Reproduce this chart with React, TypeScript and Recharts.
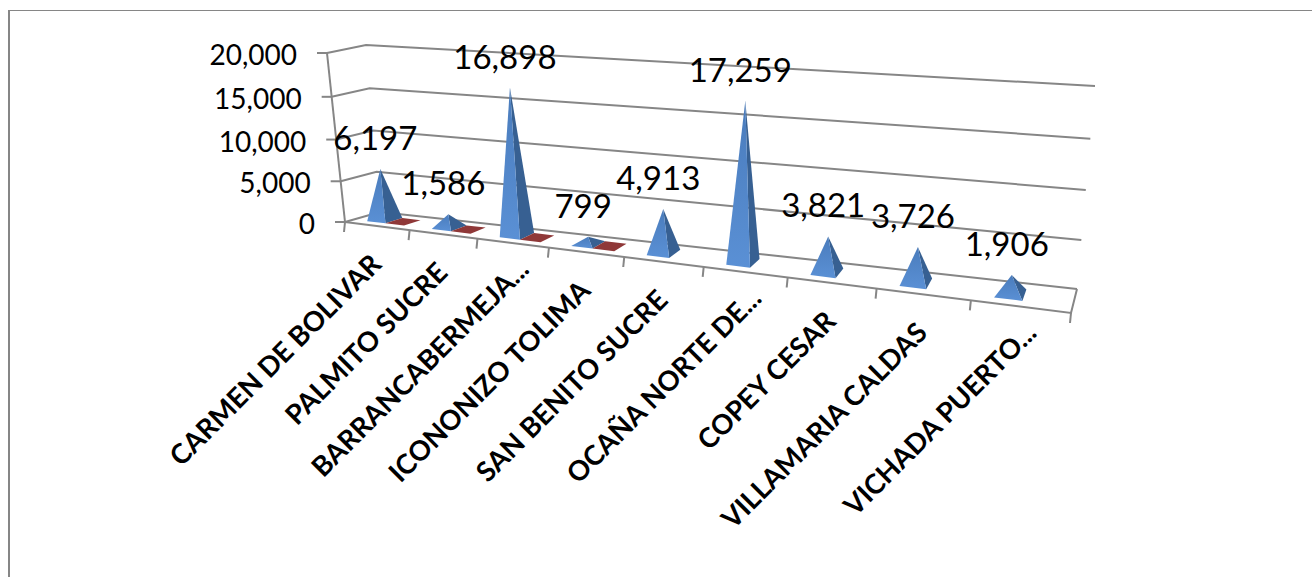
import { Bar, BarChart, CartesianGrid, LabelList, XAxis, YAxis } from "recharts";

const CATEGORIES = [
  "CARMEN DE BOLIVAR",
  "PALMITO SUCRE",
  "BARRANCABERMEJA...",
  "ICONONIZO TOLIMA",
  "SAN BENITO SUCRE",
  "OCAÑA NORTE DE...",
  "COPEY CESAR",
  "VILLAMARIA CALDAS",
  "VICHADA PUERTO...",
];
const BLUE_VALUES = [6197, 1586, 16898, 799, 4913, 17259, 3821, 3726, 1906];
const RED_VALUES = [20, 20, 20, 20, 0, 0, 0, 0, 0];
const Y_TICKS = [0, 5000, 10000, 15000, 20000];
const Y_MAX = 20000;

const tableData = CATEGORIES.map((name, i) => ({ name, blue: BLUE_VALUES[i], red: RED_VALUES[i] }));

const WIDTH = 1312;
const HEIGHT = 577;
// flat plot rect the scales work in; project() turns it into the tilted box
const PLOT = { left: 100, top: 50, width: 1000, height: 400 };
const Y_AXIS_W = 60;
const X_AXIS_H = 40;

const LINE = "#868686";
const FONT = "Lato, 'Open Sans', sans-serif";

type Pt = [number, number];
const FRONT_BOTTOM: [Pt, Pt] = [[345, 222], [1071, 313]];
const FRONT_TOP: [Pt, Pt] = [[327, 53], [1091, 105]];
const BACK_BOTTOM: [Pt, Pt] = [[380, 212], [1077, 289]];
const BACK_TOP: [Pt, Pt] = [[366, 45], [1095, 86]];

const lerp = (a: Pt, b: Pt, t: number): Pt => [a[0] + (b[0] - a[0]) * t, a[1] + (b[1] - a[1]) * t];
const persp = (u: number, k: number) => u / (u + k * (1 - u));

function project(u: number, v: number, d: number): Pt {
  const t = persp(u, 1.28);
  const h = persp(v, 1.05);
  const bottom = lerp(lerp(...FRONT_BOTTOM, t), lerp(...BACK_BOTTOM, t), d);
  const top = lerp(lerp(...FRONT_TOP, t), lerp(...BACK_TOP, t), d);
  return lerp(bottom, top, h);
}

const toU = (x: number) => (x - PLOT.left) / PLOT.width;
const toV = (y: number) => (PLOT.top + PLOT.height - y) / PLOT.height;
const pts = (list: Pt[]) => list.map((p) => p.join(",")).join(" ");

function GridLine(props: any) {
  const v = toV(props.y1);
  return (
    <polyline
      key={props.key}
      points={pts([project(0, v, 0), project(0, v, 1), project(1, v, 1)])}
      fill="none"
      stroke={LINE}
      strokeWidth={2}
    />
  );
}

function Pyramid({ x, y, width, kind }: any) {
  const u0 = toU(x);
  const u1 = toU(x + width);
  const uc = (u0 + u1) / 2;
  const v = toV(y);
  const fl = project(u0, 0, 0.25);
  const fr = project(u1, 0, 0.25);
  const br = project(u1, 0, 0.75);
  const bl = project(u0, 0, 0.75);
  if (kind === "red") {
    if (v <= 0) return null;
    return <polygon points={pts([fl, fr, br, bl])} fill="#8f3838" />;
  }
  const tip = project(uc, v, 0.5);
  return (
    <g>
      <polygon points={pts([fr, br, tip])} fill="#376092" />
      <polygon points={pts([fl, fr, tip])} fill="url(#pyramidFront)" />
    </g>
  );
}

function PeakLabel({ x, y, width, value }: any) {
  const tip = project(toU(x + width / 2), toV(y), 0.5);
  return (
    <text
      x={tip[0] - 5}
      y={tip[1] - 32}
      textAnchor="middle"
      dominantBaseline="central"
      fontFamily={FONT}
      fontSize={33}
      fill="#000"
    >
      {Number(value).toLocaleString("en-US")}
    </text>
  );
}

function CategoryTick({ x, payload }: any) {
  const [px, py] = project(toU(x), 0, 0);
  // truncated names run a little further up the diagonal in the original
  const extra = String(payload.value).endsWith("...") ? 12 : 0;
  const ax = px + 6 + extra;
  const ay = py + 40 - extra;
  return (
    <text
      x={ax}
      y={ay}
      transform={`rotate(-45 ${ax} ${ay})`}
      textAnchor="end"
      fontFamily={FONT}
      fontWeight={700}
      fontSize={27.5}
      fill="#000"
    >
      {payload.value}
    </text>
  );
}

function ValueTick({ y, payload }: any) {
  const [px, py] = project(0, toV(y), 0);
  return (
    <g>
      <line x1={px - 10} y1={py} x2={px} y2={py} stroke={LINE} strokeWidth={2} />
      <text
        x={px - 30}
        y={py + 1}
        textAnchor="end"
        dominantBaseline="central"
        fontFamily={FONT}
        fontSize={28}
        fill="#000"
      >
        {Number(payload.value).toLocaleString("en-US")}
      </text>
    </g>
  );
}

function AxisFrame() {
  const frontLeftBottom = project(0, 0, 0);
  const frontLeftTop = project(0, 1, 0);
  const frontRight = project(1, 0, 0);
  const backRight = project(1, 0, 1);
  return (
    <g>
      <line x1={frontLeftTop[0]} y1={frontLeftTop[1]} x2={frontLeftBottom[0]} y2={frontLeftBottom[1]} stroke={LINE} strokeWidth={2} />
      <polyline points={pts([frontLeftBottom, frontRight, backRight])} fill="none" stroke={LINE} strokeWidth={2} />
      {CATEGORIES.map((_, i) => i).concat(CATEGORIES.length).map((i) => {
        const p = project(i / CATEGORIES.length, 0, 0);
        return <line key={i} x1={p[0]} y1={p[1]} x2={p[0] - 1} y2={p[1] + 10} stroke={LINE} strokeWidth={2} />;
      })}
    </g>
  );
}

export default function App() {
  return (
    <div style={{ position: "absolute", left: 0, top: 0, width: WIDTH, height: HEIGHT, background: "#fff", overflow: "hidden" }}>
      <div
        style={{
          position: "absolute",
          left: 8,
          top: 10,
          width: WIDTH,
          height: HEIGHT,
          borderLeft: `2px solid ${LINE}`,
          borderTop: `1px solid ${LINE}`,
        }}
      />
      <div style={{ position: "absolute", left: 0, top: 0 }}>
        <BarChart
          width={WIDTH}
          height={HEIGHT}
          data={tableData}
          margin={{
            top: PLOT.top,
            left: PLOT.left - Y_AXIS_W,
            right: WIDTH - PLOT.left - PLOT.width,
            bottom: HEIGHT - PLOT.top - PLOT.height - X_AXIS_H,
          }}
          barCategoryGap="21.4%"
          barGap={0}
        >
          <defs>
            <linearGradient id="pyramidFront" x1="0" y1="0" x2="0" y2="1">
              <stop offset="0%" stopColor="#4a7cbc" />
              <stop offset="100%" stopColor="#5a90d5" />
            </linearGradient>
          </defs>
          <CartesianGrid vertical={false} horizontal={GridLine} />
          <AxisFrame />
          <XAxis dataKey="name" interval={0} height={X_AXIS_H} axisLine={false} tickLine={false} tick={CategoryTick} />
          <YAxis
            domain={[0, Y_MAX]}
            ticks={Y_TICKS}
            width={Y_AXIS_W}
            axisLine={false}
            tickLine={false}
            tick={ValueTick}
          />
          <Bar dataKey="blue" isAnimationActive={false} shape={(p: any) => <Pyramid {...p} kind="blue" />}>
            <LabelList dataKey="blue" content={PeakLabel} />
          </Bar>
          <Bar dataKey="red" isAnimationActive={false} shape={(p: any) => <Pyramid {...p} kind="red" />} />
        </BarChart>
      </div>
    </div>
  );
}
